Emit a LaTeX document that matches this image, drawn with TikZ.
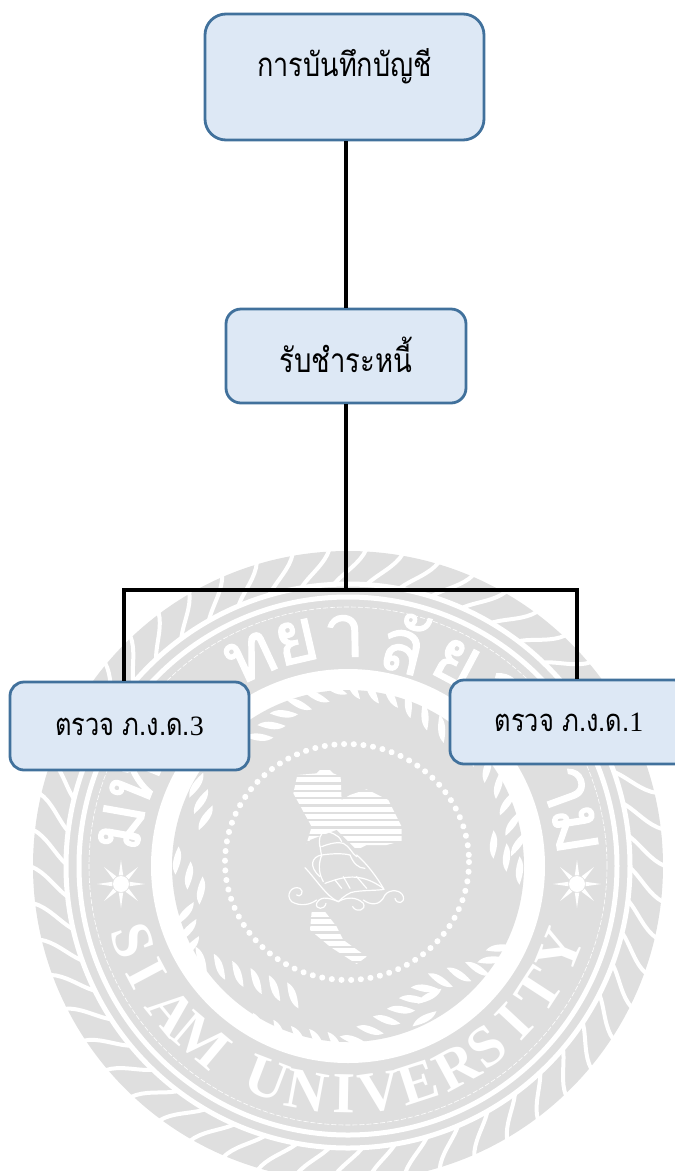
\documentclass[tikz,border=0pt]{standalone}
\usepackage{fontspec}
\usetikzlibrary{calc}
\setmainfont{Liberation Serif}
\newfontfamily\thaifont[Script=Thai,FakeStretch=0.82]{Loma}
\newfontfamily\sealthai[Script=Thai,FakeBold=1.5]{Loma}
\definecolor{sealgrey}{HTML}{DFDFDF}
\definecolor{boxfill}{HTML}{DDE8F5}
\definecolor{boxline}{HTML}{41719C}
\tikzset{
  boxnode/.style={draw=boxline,line width=2.8pt,fill=boxfill,inner sep=0pt,align=center,text=black},
  conn/.style={draw=black,line width=4pt,line cap=butt,line join=miter},
  sealen/.style={text=white,font=\fontsize{58}{58}\selectfont\bfseries,inner sep=0pt},
  sealth/.style={text=white,font=\sealthai\fontsize{74}{74}\selectfont,inner sep=0pt},
  stripe/.style={fill=white},
  shipline/.style={draw=white,line width=1.2pt,line cap=round,line join=round}
}
\newcommand\ropeseg[4]{%
  \pgfmathsetmacro\rlen{veclen(#3-#1,#4-#2)}%
  \pgfmathtruncatemacro\rn{max(1,round(\rlen/19))}%
  \pgfmathsetmacro\rang{atan2(#4-#2,#3-#1)}%
  \foreach \i in {1,...,\rn}{%
    \pgfmathsetmacro\rt{(\i-.5)/\rn}%
    \pgfmathsetmacro\rx{#1+\rt*(#3-#1)}%
    \pgfmathsetmacro\ry{#2+\rt*(#4-#2)}%
    \fill[white,shift={(\rx,\ry)},rotate=-\rang] (-10,-10) .. controls (-2,-9) and (4,-3) .. (10,10) .. controls (2,9) and (-4,3) .. (-10,-10) -- cycle;
  }%
}
\begin{document}
\begin{tikzpicture}[x=1pt,y=-1pt]
\useasboundingbox (0,0) rectangle (675,1171);
\clip (0,0) rectangle (675,1171);

% ---------- seal ----------
\begin{scope}[shift={(348,866)},y=1pt]
  \fill[sealgrey] (0,0) circle[radius=315pt];
  \foreach \a in {0,6.67,...,359}{
    \draw[white,line width=4pt] (\a:317pt) .. controls (\a+1:303pt) and (\a+4:294pt) .. (\a+6:283pt);
  }
  \draw[white,line width=5pt] (0,0) circle[radius=282pt];
  \draw[white,line width=5pt] (0,0) circle[radius=269pt];
  \draw[white,line width=.6pt,dash pattern=on 5pt off 2pt] (0,0) circle[radius=259pt];
  % English lettering
  \foreach \c/\a [count=\i] in {S/199,I/208,A/219.5,M/230,U/249,N/259.5,I/269,V/278,E/288,R/298.5,S/307.5,I/317,T/327,Y/338}{
    \pgfmathsetmacro{\rr}{\a-270}
    \node[sealen,rotate=\rr] (en\i) at (\a:228pt) {\c};
  }
  % Thai lettering
  \foreach \c/\a [count=\i] in {ม/170,ห/158,วิ/136,ท/115,ย/103,า/91,ลั/76,ย/62,ส/48,า/20,ม/9}{
    \pgfmathsetmacro{\rr}{\a-90}
    \node[sealth,rotate=\rr] (th\i) at (\a:230pt) {\c};
  }
  % white band + inner field
  \fill[white] (0,0) circle[radius=197pt];
  \fill[sealgrey] (0,0) circle[radius=176pt];
  % suns
  \foreach \px/\py in {-227/-18,229/-18}{
    \begin{scope}[shift={(\px pt,\py pt)}]
      \foreach \r in {0,45,...,315}{\fill[white] (\r:24pt) -- (\r+14:9pt) -- (\r-14:9pt) -- cycle;}
      \fill[white] (0,0) circle[radius=8pt];
    \end{scope}
  }
\end{scope}

% inner rope
\ropeseg{253}{743}{290}{708}
\ropeseg{290}{708}{343}{685}
\ropeseg{343}{685}{400}{698}
\ropeseg{400}{698}{450}{735}
\ropeseg{470}{745}{504}{793}
\ropeseg{504}{793}{521}{854}
\ropeseg{487}{838}{539}{890}
\ropeseg{159}{838}{207}{898}
\ropeseg{194}{777}{208}{826}
\ropeseg{184}{905}{192}{956}
\ropeseg{192}{956}{302}{999}
\ropeseg{228}{1015}{290}{1036}
\ropeseg{290}{1036}{345}{1045}
\ropeseg{345}{1045}{395}{1015}
\ropeseg{395}{1015}{431}{983}
\ropeseg{431}{983}{487}{966}
\ropeseg{487}{966}{504}{942}
\ropeseg{422}{1030}{432}{985}

% bead ring
\draw[white,line width=6pt,line cap=round,dash pattern=on 0.1pt off 9.6pt] (347,862) ellipse[x radius=122,y radius=118];

% map of Thailand (striped)
\begin{scope}[shift={(210,740)},x=.3333pt,y=-.3333pt]
  \begin{scope}
    \clip (262,105) -- (320,100) -- (345,75) -- (370,100) -- (392,110) -- (395,180) -- (420,165) -- (470,148) -- (535,180) -- (575,260) -- (575,303) -- (530,315) -- (470,315) -- (440,330) -- (340,290) -- (290,310) -- (305,260) -- (250,160) -- cycle;
    \foreach \y in {90,112,...,310}{\fill[stripe] (240,\y) rectangle (590,\y+15);}
  \end{scope}
  \begin{scope}
    \clip (305,515) -- (345,515) -- (380,560) -- (400,600) -- (470,650) -- (440,672) -- (360,620) -- (300,570) -- cycle;
    \foreach \y in {515,537,...,670}{\fill[stripe] (290,\y) rectangle (480,\y+15);}
  \end{scope}
  % ship
  \fill[sealgrey] (285,385) -- (300,300) -- (380,270) -- (470,360) -- (525,450) -- (430,470) -- (385,485) -- cycle;
  \draw[shipline] (285,383) .. controls (320,420) and (350,470) .. (385,485) .. controls (400,470) and (420,455) .. (435,455) .. controls (470,450) and (500,452) .. (522,448) .. controls (500,410) and (470,370) .. (440,345);
  \draw[shipline] (345,430) .. controls (400,410) and (450,395) .. (520,445);
  \draw[shipline] (340,425) .. controls (320,390) and (330,360) .. (335,345) .. controls (370,340) and (400,340) .. (420,345) .. controls (430,370) and (445,385) .. (465,385);
  \draw[shipline] (335,345) .. controls (305,350) and (295,380) .. (330,410);
  \draw[shipline] (335,320) .. controls (360,310) and (385,305) .. (400,310) .. controls (420,320) and (425,340) .. (440,350);
  \draw[shipline] (330,320) .. controls (325,295) and (330,285) .. (345,270) .. controls (360,280) and (385,280) .. (395,305);
  \draw[shipline] (335,350) -- (330,318);
  \draw[shipline] (375,420) -- (395,445) (400,410) -- (420,445) (440,410) -- (470,445);
  \draw[shipline] (385,485) .. controls (350,470) and (330,470) .. (320,490) .. controls (315,510) and (345,510) .. (348,490);
  \draw[shipline] (320,480) .. controls (300,495) and (270,500) .. (245,485) .. controls (225,465) and (245,435) .. (270,445) .. controls (285,455) and (270,475) .. (260,465);
  \draw[shipline] (385,485) .. controls (410,470) and (440,470) .. (460,490) .. controls (470,510) and (440,520) .. (428,500);
  \draw[shipline] (460,480) .. controls (480,495) and (510,500) .. (525,465) .. controls (540,445) and (575,450) .. (580,470) .. controls (585,490) and (560,495) .. (555,475);
\end{scope}

% ---------- diagram ----------
\node[boxnode,rounded corners=21pt,minimum width=279pt,minimum height=126pt] (top) at (344.5,77) {\thaifont\fontsize{33}{33}\selectfont การบันทึกบัญชี\\[16pt]~};
\node[boxnode,rounded corners=15pt,minimum width=240pt,minimum height=94pt] (mid) at (346,356) {\raisebox{3pt}{\thaifont\fontsize{33.5}{33.5}\selectfont รับชำระหนี้}};
\node[boxnode,rounded corners=14pt,minimum width=239pt,minimum height=88pt] (lft) at (129.5,726) {\thaifont\fontsize{31}{31}\selectfont ตรวจ ภ.ง.ด.{\rmfamily\fontsize{28}{28}\selectfont 3}};
\node[boxnode,rounded corners=14pt,minimum width=238pt,minimum height=84pt] (rgt) at (569,722) {\thaifont\fontsize{31}{31}\selectfont ตรวจ ภ.ง.ด.{\rmfamily\fontsize{28}{28}\selectfont 1}};

\coordinate (bus) at (346,590);
\coordinate (tl) at ([xshift=-5.5pt]lft.north);
\coordinate (tr) at ([xshift=8pt]rgt.north);
\draw[conn] (mid.north |- top.south) -- (mid.north);
\draw[conn] (mid.south) -- (bus);
\draw[conn] (tl) |- (bus) -| (tr);
\end{tikzpicture}
\end{document}
